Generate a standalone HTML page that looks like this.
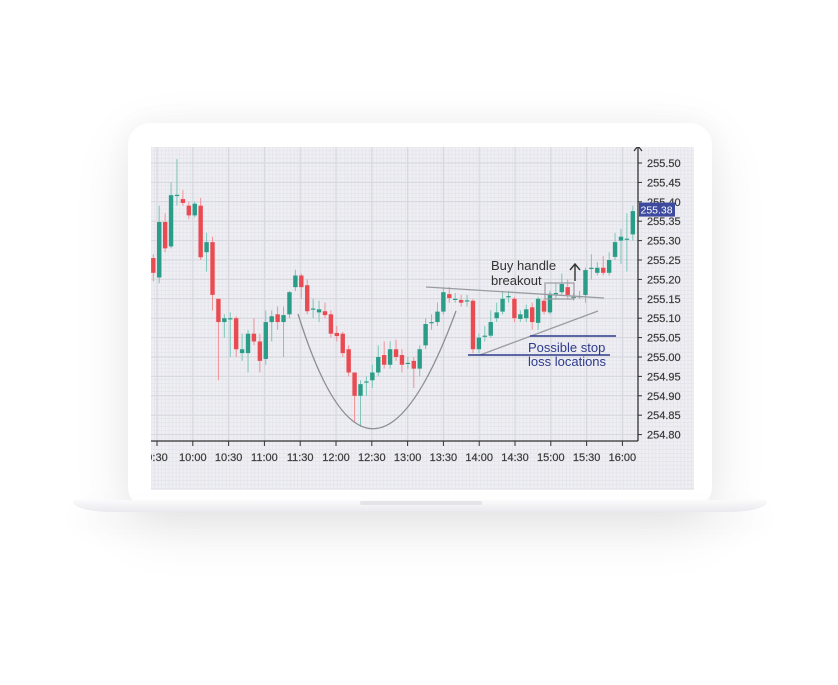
<!DOCTYPE html>
<html><head><meta charset="utf-8">
<style>
html,body{margin:0;padding:0;background:#fff;width:838px;height:685px;overflow:hidden;font-family:"Liberation Sans",sans-serif;}
#frame{position:absolute;left:128px;top:123px;width:584px;height:386px;background:#fff;border-radius:22px;box-shadow:0 18px 60px rgba(0,0,0,0.09),0 0 30px rgba(0,0,0,0.04);}
#base{position:absolute;left:73px;top:500px;width:694px;height:12px;background:linear-gradient(#fbfbfc,#e9e9ee);border-radius:0 0 40px 40px/0 0 10px 10px;box-shadow:0 14px 30px rgba(0,0,0,0.06);}
#notch{position:absolute;left:360px;top:501px;width:122px;height:4px;background:#e3e3e8;border-radius:2px;}
svg{position:absolute;left:0;top:0;}
</style></head><body>
<div id="frame"></div>
<div id="base"></div>
<div id="notch"></div>
<svg id="chart" width="838" height="685"></svg>
<script>
const opens=[255.255,255.205,255.348,255.285,255.415,255.407,255.39,255.365,255.39,255.27,255.296,255.15,255.09,255.10,255.10,255.01,255.01,255.06,255.04,254.995,255.09,255.11,255.09,255.11,255.18,255.21,255.185,255.125,255.115,255.118,255.11,255.062,255.06,255.02,254.96,254.90,254.935,254.94,254.96,255.005,254.98,255.02,255.005,254.985,254.99,254.97,255.03,255.09,255.09,255.117,255.162,255.15,255.147,255.143,255.145,255.02,255.055,255.055,255.10,255.117,255.155,255.15,255.098,255.10,255.128,255.088,255.145,255.115,255.165,255.167,255.18,255.155,255.157,255.16,255.23,255.217,255.23,255.217,255.258,255.30,255.305,255.316];
const closes=[255.217,255.348,255.28,255.417,255.418,255.397,255.365,255.395,255.257,255.296,255.16,255.09,255.10,255.10,255.02,255.02,255.06,255.04,254.99,255.09,255.105,255.09,255.108,255.167,255.21,255.18,255.118,255.125,255.123,255.108,255.06,255.054,255.01,254.96,254.90,254.93,254.937,254.96,255.00,254.98,255.02,255.0,254.98,254.985,254.97,255.02,255.085,255.09,255.117,255.167,255.152,255.15,255.14,255.146,255.02,255.05,255.055,255.09,255.115,255.15,255.157,255.1,255.11,255.123,255.09,255.15,255.117,255.163,255.165,255.188,255.16,255.155,255.157,255.224,255.23,255.23,255.217,255.25,255.296,255.31,255.305,255.376];
const highs=[255.265,255.39,255.37,255.45,255.51,255.43,255.40,255.40,255.41,255.32,255.31,255.15,255.11,255.115,255.105,255.06,255.07,255.10,255.06,255.12,255.12,255.13,255.13,255.17,255.225,255.215,255.20,255.15,255.145,255.14,255.12,255.08,255.065,255.03,254.96,254.94,254.95,254.98,255.03,255.04,255.04,255.045,255.02,255.0,255.0,255.03,255.10,255.11,255.14,255.18,255.18,255.165,255.16,255.16,255.15,255.06,255.08,255.12,255.14,255.17,255.17,255.155,255.12,255.135,255.14,255.155,255.15,255.17,255.19,255.215,255.20,255.165,255.17,255.23,255.265,255.245,255.26,255.27,255.32,255.33,255.37,255.39];
const lows=[255.195,255.19,255.27,255.28,255.39,255.39,255.355,255.36,255.25,255.22,255.12,254.94,255.05,255.00,255.0,254.99,254.96,255.03,254.96,254.98,255.04,255.07,255.0,255.10,255.17,255.15,255.11,255.10,255.09,255.1,255.05,255.04,255.0,254.95,254.83,254.82,254.90,254.92,254.95,254.97,254.97,254.99,254.96,254.97,254.92,254.95,255.02,255.07,255.08,255.11,255.14,255.14,255.13,255.13,255.01,255.01,255.04,255.05,255.09,255.11,255.14,255.09,255.09,255.09,255.07,255.07,255.11,255.11,255.15,255.16,255.15,255.145,255.15,255.14,255.20,255.21,255.21,255.21,255.25,255.24,255.22,255.30];
const priceTicks=[255.50,255.45,255.40,255.35,255.30,255.25,255.20,255.15,255.10,255.05,255.00,254.95,254.90,254.85,254.80];
const timeTicks=["9:30","10:00","10:30","11:00","11:30","12:00","12:30","13:00","13:30","14:00","14:30","15:00","15:30","16:00"];
const lastPrice=255.38;

const NS="http://www.w3.org/2000/svg";
const svg=document.getElementById('chart');
const L=151,R=694,T=147,B=490,AX=638,AY=441;
const y=p=>163+(255.50-p)*388;
const xi=i=>153.3+i*5.92;
const xt=k=>157+k*35.8;
function el(tag,attrs,parent){const e=document.createElementNS(NS,tag);for(const k in attrs)e.setAttribute(k,attrs[k]);(parent||svg).appendChild(e);return e;}

const clip=el('clipPath',{id:'scr'});el('rect',{x:L,y:T,width:R-L,height:B-T},clip);
const g=el('g',{'clip-path':'url(#scr)'});
const bg=el('rect',{x:L,y:T,width:R-L,height:B-T,fill:'#eeeef3'},g);


for(let xx=L;xx<R;xx+=3.58)el('line',{x1:xx,y1:T,x2:xx,y2:B,stroke:'#e2e2ea','stroke-width':0.6},g);
for(let yy=T;yy<B;yy+=3.88)el('line',{x1:L,y1:yy,x2:R,y2:yy,stroke:'#e2e2ea','stroke-width':0.6},g);
priceTicks.forEach(p=>el('line',{x1:L,y1:y(p),x2:AX,y2:y(p),stroke:'#d6d6de','stroke-width':1},g));
timeTicks.forEach((t,k)=>el('line',{x1:xt(k),y1:T,x2:xt(k),y2:AY,stroke:'#d6d6de','stroke-width':1},g));

for(let i=0;i<opens.length;i++){
  const up=closes[i]>=opens[i];
  const c=up?'#2a9d88':'#e94b52', wc=up?'#7cc7b8':'#f09397';
  const cg=el('g',{},g);
  
  
  const x=xi(i);
  el('line',{x1:x,y1:y(highs[i]),x2:x,y2:y(lows[i]),stroke:wc,'stroke-width':1},cg);
  const top=y(Math.max(opens[i],closes[i])),bot=y(Math.min(opens[i],closes[i]));
  el('rect',{x:x-2.2,y:top,width:4.4,height:Math.max(1.2,bot-top),fill:c},cg);
}

const cup=el('path',{d:'M298,314 Q370,545 456,311',fill:'none',stroke:'#8e8e95','stroke-width':1.3},g);


const res=el('line',{x1:426,y1:287,x2:604,y2:298,stroke:'#9a9aa2','stroke-width':1.3},g);


const sup=el('line',{x1:480,y1:355,x2:598,y2:311,stroke:'#9a9aa2','stroke-width':1.3},g);


const box=el('rect',{x:545,y:283,width:29,height:16,fill:'none',stroke:'#9a9aa2','stroke-width':1.2},g);


const arr=el('path',{d:'M575,281 L575,265 M570,270 L575,264 L580,270',fill:'none',stroke:'#333','stroke-width':1.4},g);


const s1=el('line',{x1:468,y1:355,x2:610,y2:355,stroke:'#2e3b8c','stroke-width':1.5},g);


const s2=el('line',{x1:530,y1:336,x2:616,y2:336,stroke:'#2e3b8c','stroke-width':1.5},g);


const t1=el('text',{x:491,y:270,'font-size':13,fill:'#333'},g);t1.textContent='Buy handle';


const t2=el('text',{x:491,y:285,'font-size':13,fill:'#333'},g);t2.textContent='breakout';


const t3=el('text',{x:528,y:352,'font-size':13,fill:'#2e3b8c'},g);t3.textContent='Possible stop';


const t4=el('text',{x:528,y:366,'font-size':13,fill:'#2e3b8c'},g);t4.textContent='loss locations';



const ya=el('line',{x1:AX,y1:T,x2:AX,y2:AY,stroke:'#333','stroke-width':1.3},g);


el('path',{d:'M634,151 L638,146 L642,151',fill:'none',stroke:'#333','stroke-width':1.2},g);
const xa=el('line',{x1:L,y1:AY,x2:AX,y2:AY,stroke:'#333','stroke-width':1.3},g);


priceTicks.forEach(p=>{
  el('line',{x1:AX,y1:y(p),x2:AX+4,y2:y(p),stroke:'#333','stroke-width':1},g);
  const t=el('text',{x:647,y:y(p)+4,'font-size':11,fill:'#3a3a3a','stroke':'#3a3a3a','stroke-width':0.2},g);
  t.textContent=p.toFixed(2);
  
  
});
timeTicks.forEach((s,k)=>{
  el('line',{x1:xt(k),y1:AY,x2:xt(k),y2:AY+5,stroke:'#333','stroke-width':1},g);
  const t=el('text',{x:xt(k),y:461,'font-size':11,fill:'#3a3a3a','stroke':'#3a3a3a','stroke-width':0.2,'text-anchor':'middle'},g);
  t.textContent=s;
  
  
});
const pb=el('rect',{x:639,y:y(lastPrice)-7,width:36,height:14,fill:'#3e4a9e'},g);


const pt=el('text',{x:640.5,y:y(lastPrice)+4,'font-size':10.5,fill:'#fff'},g);
pt.textContent=lastPrice.toFixed(2);


</script>
</body></html>
